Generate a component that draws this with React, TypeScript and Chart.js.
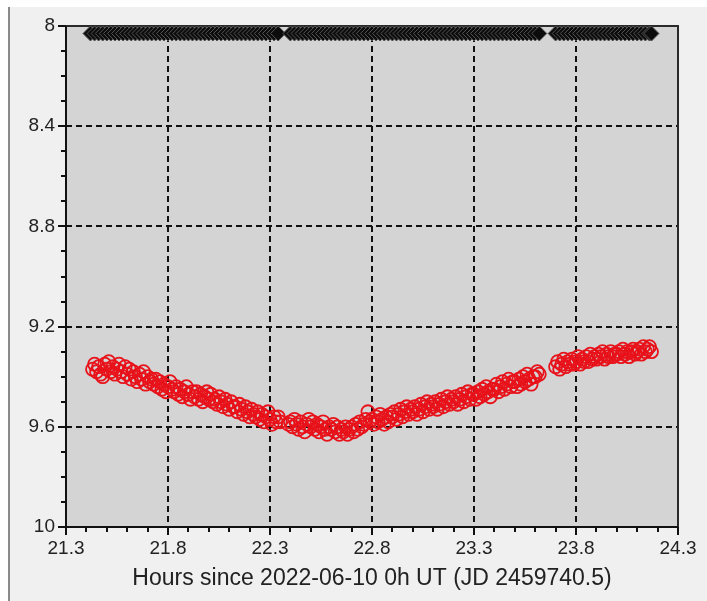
import React, { useEffect, useRef } from 'react';
import { Chart, registerables } from 'chart.js';

Chart.register(...registerables);

// Variable star: observation times (hours since 2022-06-10 0h UT)
const varTimes: number[] = [
  21.43, 21.44, 21.45, 21.46, 21.47, 21.48, 21.49, 21.50, 21.51, 21.52,
  21.53, 21.54, 21.55, 21.56, 21.57, 21.58, 21.59, 21.60, 21.61, 21.62,
  21.63, 21.64, 21.65, 21.66, 21.67, 21.68, 21.69, 21.70, 21.71, 21.72,
  21.73, 21.74, 21.75, 21.76, 21.77, 21.78, 21.79, 21.80, 21.81, 21.82,
  21.83, 21.84, 21.85, 21.86, 21.87, 21.88, 21.89, 21.90, 21.91, 21.92,
  21.93, 21.94, 21.95, 21.96, 21.97, 21.98, 21.99, 22.00, 22.01, 22.02,
  22.03, 22.04, 22.05, 22.06, 22.07, 22.08, 22.09, 22.10, 22.11, 22.12,
  22.13, 22.14, 22.15, 22.16, 22.17, 22.18, 22.19, 22.20, 22.21, 22.22,
  22.23, 22.24, 22.25, 22.26, 22.27, 22.28, 22.29, 22.30, 22.31, 22.32,
  22.33, 22.34, 22.35,
  22.39, 22.40, 22.41, 22.42, 22.43, 22.44, 22.45, 22.46, 22.47, 22.48, 22.49,
  22.50, 22.51, 22.52, 22.53, 22.54, 22.55, 22.56, 22.57, 22.58, 22.59,
  22.60, 22.61, 22.62, 22.63, 22.64, 22.65, 22.66, 22.67, 22.68, 22.69,
  22.70, 22.71, 22.72, 22.73, 22.74, 22.75, 22.76, 22.77, 22.78, 22.79,
  22.80, 22.81, 22.82, 22.83, 22.84, 22.85, 22.86, 22.87, 22.88, 22.89,
  22.90, 22.91, 22.92, 22.93, 22.94, 22.95, 22.96, 22.97, 22.98, 22.99,
  23.00, 23.01, 23.02, 23.03, 23.04, 23.05, 23.06, 23.07, 23.08, 23.09,
  23.10, 23.11, 23.12, 23.13, 23.14, 23.15, 23.16, 23.17, 23.18, 23.19,
  23.20, 23.21, 23.22, 23.23, 23.24, 23.25, 23.26, 23.27, 23.28, 23.29,
  23.30, 23.31, 23.32, 23.33, 23.34, 23.35, 23.36, 23.37, 23.38, 23.39,
  23.40, 23.41, 23.42, 23.43, 23.44, 23.45, 23.46, 23.47, 23.48, 23.49,
  23.50, 23.51, 23.52, 23.53, 23.54, 23.55, 23.56, 23.57, 23.58, 23.59,
  23.60, 23.61, 23.62,
  23.70, 23.71, 23.72, 23.73, 23.74, 23.75, 23.76, 23.77, 23.78, 23.79,
  23.80, 23.81, 23.82, 23.83, 23.84, 23.85, 23.86, 23.87, 23.88, 23.89,
  23.90, 23.91, 23.92, 23.93, 23.94, 23.95, 23.96, 23.97, 23.98, 23.99,
  24.00, 24.01, 24.02, 24.03, 24.04, 24.05, 24.06, 24.07, 24.08, 24.09,
  24.10, 24.11, 24.12, 24.13, 24.14, 24.15, 24.16, 24.17,
];

// Variable star magnitudes (red open circles)
const varMags: number[] = [
  9.37, 9.35, 9.38, 9.36, 9.39, 9.40, 9.35, 9.37, 9.34, 9.38,
  9.36, 9.39, 9.37, 9.35, 9.38, 9.40, 9.36, 9.39, 9.37, 9.41,
  9.38, 9.40, 9.42, 9.39, 9.41, 9.38, 9.43, 9.40, 9.42, 9.41,
  9.43, 9.41, 9.44, 9.42, 9.45, 9.43, 9.46, 9.44, 9.42, 9.45,
  9.46, 9.44, 9.47, 9.45, 9.48, 9.46, 9.44, 9.47, 9.49, 9.46,
  9.48, 9.46, 9.49, 9.47, 9.50, 9.48, 9.46, 9.49, 9.47, 9.50,
  9.49, 9.51, 9.48, 9.50, 9.52, 9.49, 9.51, 9.53, 9.50, 9.52,
  9.52, 9.54, 9.51, 9.53, 9.55, 9.52, 9.54, 9.56, 9.53, 9.55,
  9.56, 9.54, 9.57, 9.55, 9.58, 9.56, 9.54, 9.57, 9.59, 9.56,
  9.58, 9.56, 9.58,
  9.59, 9.58, 9.60, 9.57, 9.59, 9.61, 9.58, 9.60, 9.62, 9.59, 9.57,
  9.60, 9.58, 9.61, 9.59, 9.62, 9.60, 9.58, 9.61, 9.63, 9.60,
  9.61, 9.59, 9.62, 9.60, 9.63, 9.61, 9.62, 9.60, 9.63, 9.61,
  9.60, 9.62, 9.59, 9.61, 9.58, 9.60, 9.59, 9.57, 9.54, 9.58,
  9.57, 9.59, 9.56, 9.58, 9.55, 9.57, 9.59, 9.56, 9.58, 9.55,
  9.56, 9.54, 9.57, 9.55, 9.53, 9.56, 9.54, 9.52, 9.55, 9.53,
  9.54, 9.52, 9.55, 9.53, 9.51, 9.54, 9.52, 9.50, 9.53, 9.51,
  9.52, 9.50, 9.53, 9.51, 9.49, 9.52, 9.50, 9.48, 9.51, 9.49,
  9.50, 9.48, 9.51, 9.49, 9.47, 9.50, 9.48, 9.46, 9.49, 9.47,
  9.47, 9.49, 9.46, 9.48, 9.45, 9.47, 9.44, 9.46, 9.48, 9.45,
  9.45, 9.43, 9.46, 9.44, 9.42, 9.45, 9.43, 9.41, 9.44, 9.42,
  9.42, 9.44, 9.41, 9.43, 9.40, 9.42, 9.39, 9.41, 9.43, 9.40,
  9.40, 9.38, 9.39,
  9.36, 9.34, 9.37, 9.35, 9.33, 9.36, 9.34, 9.35, 9.33, 9.35,
  9.34, 9.32, 9.35, 9.33, 9.34, 9.32, 9.34, 9.31, 9.33, 9.32,
  9.33, 9.31, 9.32, 9.30, 9.33, 9.31, 9.32, 9.30, 9.32, 9.31,
  9.31, 9.30, 9.32, 9.29, 9.31, 9.30, 9.32, 9.30, 9.29, 9.31,
  9.30, 9.29, 9.31, 9.28, 9.30, 9.29, 9.28, 9.30,
];

// Comparison star: times and magnitudes (black filled diamonds)
const compTimes: number[] = [
  21.42, 21.44, 21.46, 21.48, 21.50, 21.52, 21.54, 21.56, 21.58, 21.60,
  21.62, 21.64, 21.66, 21.68, 21.70, 21.72, 21.74, 21.76, 21.78, 21.80,
  21.82, 21.84, 21.86, 21.88, 21.90, 21.92, 21.94, 21.96, 21.98, 22.00,
  22.02, 22.04, 22.06, 22.08, 22.10, 22.12, 22.14, 22.16, 22.18, 22.20,
  22.22, 22.24, 22.26, 22.28, 22.30, 22.32, 22.34, 22.40, 22.42, 22.44,
  22.46, 22.48, 22.50, 22.52, 22.54, 22.56, 22.58, 22.60, 22.62, 22.64,
  22.66, 22.68, 22.70, 22.72, 22.74, 22.76, 22.78, 22.80, 22.82, 22.84,
  22.86, 22.88, 22.90, 22.92, 22.94, 22.96, 22.98, 23.00, 23.02, 23.04,
  23.06, 23.08, 23.10, 23.12, 23.14, 23.16, 23.18, 23.20, 23.22, 23.24,
  23.26, 23.28, 23.30, 23.32, 23.34, 23.36, 23.38, 23.40, 23.42, 23.44,
  23.46, 23.48, 23.50, 23.52, 23.54, 23.56, 23.58, 23.60, 23.62, 23.70,
  23.72, 23.74, 23.76, 23.78, 23.80, 23.82, 23.84, 23.86, 23.88, 23.90,
  23.92, 23.94, 23.96, 23.98, 24.00, 24.02, 24.04, 24.06, 24.08, 24.10,
  24.12, 24.14, 24.16, 24.17,
];
const compMags: number[] = [
  8.03, 8.03, 8.03, 8.03, 8.03, 8.03, 8.03, 8.03, 8.03, 8.03,
  8.03, 8.03, 8.03, 8.03, 8.03, 8.03, 8.03, 8.03, 8.03, 8.03,
  8.03, 8.03, 8.03, 8.03, 8.03, 8.03, 8.03, 8.03, 8.03, 8.03,
  8.03, 8.03, 8.03, 8.03, 8.03, 8.03, 8.03, 8.03, 8.03, 8.03,
  8.03, 8.03, 8.03, 8.03, 8.03, 8.03, 8.03, 8.03, 8.03, 8.03,
  8.03, 8.03, 8.03, 8.03, 8.03, 8.03, 8.03, 8.03, 8.03, 8.03,
  8.03, 8.03, 8.03, 8.03, 8.03, 8.03, 8.03, 8.03, 8.03, 8.03,
  8.03, 8.03, 8.03, 8.03, 8.03, 8.03, 8.03, 8.03, 8.03, 8.03,
  8.03, 8.03, 8.03, 8.03, 8.03, 8.03, 8.03, 8.03, 8.03, 8.03,
  8.03, 8.03, 8.03, 8.03, 8.03, 8.03, 8.03, 8.03, 8.03, 8.03,
  8.03, 8.03, 8.03, 8.03, 8.03, 8.03, 8.03, 8.03, 8.03, 8.03,
  8.03, 8.03, 8.03, 8.03, 8.03, 8.03, 8.03, 8.03, 8.03, 8.03,
  8.03, 8.03, 8.03, 8.03, 8.03, 8.03, 8.03, 8.03, 8.03, 8.03,
  8.03, 8.03, 8.03, 8.03,
];

const xTickLabels: number[] = [21.3, 21.8, 22.3, 22.8, 23.3, 23.8, 24.3];
const yTickLabels: number[] = [8, 8.4, 8.8, 9.2, 9.6, 10];
const xTitle = 'Hours since 2022-06-10 0h UT (JD 2459740.5)';

const X_MIN = 21.3, X_MAX = 24.3, X_MINOR = 0.1;
const Y_MIN = 8, Y_MAX = 10, Y_MINOR = 0.1;

const isMajor = (v: number, arr: number[]) => arr.some((a) => Math.abs(a - v) < 1e-6);

export default function App() {
  const ref = useRef<HTMLCanvasElement>(null);

  useEffect(() => {
    document.body.style.margin = '0';
    const canvas = ref.current;
    if (!canvas) return;

    const framePlugin = {
      id: 'framePlugin',
      beforeDraw(chart: any) {
        const { ctx, chartArea: a } = chart;
        ctx.save();
        ctx.fillStyle = '#d4d4d4';
        ctx.fillRect(a.left, a.top, a.right - a.left, a.bottom - a.top);
        ctx.restore();
      },
      beforeDatasetsDraw(chart: any) {
        const { ctx, chartArea: a, scales } = chart;
        ctx.save();
        ctx.strokeStyle = '#111';
        ctx.lineWidth = 2;
        ctx.setLineDash([6, 4]);
        xTickLabels.forEach((v) => {
          if (v === X_MIN || v === X_MAX) return;
          const x = Math.round(scales.x.getPixelForValue(v));
          ctx.beginPath();
          ctx.moveTo(x, a.top);
          ctx.lineTo(x, a.bottom);
          ctx.stroke();
        });
        yTickLabels.forEach((v) => {
          if (v === Y_MIN || v === Y_MAX) return;
          const y = Math.round(scales.y.getPixelForValue(v));
          ctx.beginPath();
          ctx.moveTo(a.left, y);
          ctx.lineTo(a.right, y);
          ctx.stroke();
        });
        ctx.setLineDash([]);
        ctx.strokeStyle = '#2a2a2a';
        ctx.strokeRect(a.left, a.top, a.right - a.left, a.bottom - a.top);
        ctx.restore();
      },
      afterDraw(chart: any) {
        const { ctx, chartArea: a, scales } = chart;
        ctx.save();
        ctx.strokeStyle = '#111';
        ctx.lineWidth = 2;
        scales.x.ticks.forEach((t: any) => {
          const x = Math.round(scales.x.getPixelForValue(t.value));
          const len = isMajor(t.value, xTickLabels) ? 8 : 5;
          ctx.beginPath();
          ctx.moveTo(x, a.bottom);
          ctx.lineTo(x, a.bottom + len);
          ctx.stroke();
        });
        scales.y.ticks.forEach((t: any) => {
          const y = Math.round(scales.y.getPixelForValue(t.value));
          const len = isMajor(t.value, yTickLabels) ? 8 : 5;
          ctx.beginPath();
          ctx.moveTo(a.left, y);
          ctx.lineTo(a.left - len, y);
          ctx.stroke();
        });
        ctx.beginPath();
        ctx.moveTo(a.left, a.top);
        ctx.lineTo(a.left, a.bottom);
        ctx.lineTo(a.right, a.bottom);
        ctx.stroke();
        ctx.restore();
      },
    };

    const tickFont = { family: "'Liberation Sans', Arial, sans-serif", size: 19 };

    const chart = new Chart(canvas, {
      type: 'scatter',
      data: {
        datasets: [
          {
            label: 'Variable',
            data: varTimes.map((t, i) => ({ x: t, y: varMags[i] })),
            pointStyle: 'circle',
            pointRadius: 6.5,
            borderColor: '#e8121a',
            backgroundColor: 'rgba(0,0,0,0)',
            borderWidth: 1.8,
          },
          {
            label: 'Comparison',
            data: compTimes.map((t, i) => ({ x: t, y: compMags[i] })),
            pointStyle: 'rectRot',
            pointRadius: 7.5,
            borderColor: '#555',
            backgroundColor: '#0c0c0c',
            borderWidth: 1,
          },
        ],
      },
      options: {
        animation: false,
        responsive: false,
        layout: { padding: { left: 0, top: 26, right: 29, bottom: 0 } },
        plugins: { legend: { display: false }, tooltip: { enabled: false } },
        scales: {
          x: {
            type: 'linear',
            min: X_MIN,
            max: X_MAX,
            grid: { display: false, drawTicks: false },
            border: { display: false },
            afterBuildTicks: (s: any) => {
              const n = Math.round((X_MAX - X_MIN) / X_MINOR);
              const arr = [];
              for (let k = 0; k <= n; k++) arr.push({ value: +(X_MIN + k * X_MINOR).toFixed(2) });
              s.ticks = arr;
            },
            afterFit: (s: any) => {
              s.height = 74;
            },
            ticks: {
              autoSkip: false,
              maxRotation: 0,
              minRotation: 0,
              padding: 10,
              color: '#222',
              font: tickFont,
              callback: (v: any) => (isMajor(Number(v), xTickLabels) ? Number(v).toFixed(1) : ''),
            },
            title: {
              display: true,
              text: xTitle,
              color: '#222',
              font: { family: "'Liberation Sans', Arial, sans-serif", size: 23 },
              padding: { top: 0, bottom: 9 },
            },
          },
          y: {
            type: 'linear',
            reverse: true,
            min: Y_MIN,
            max: Y_MAX,
            grid: { display: false, drawTicks: false },
            border: { display: false },
            afterBuildTicks: (s: any) => {
              const n = Math.round((Y_MAX - Y_MIN) / Y_MINOR);
              const arr = [];
              for (let k = 0; k <= n; k++) arr.push({ value: +(Y_MIN + k * Y_MINOR).toFixed(2) });
              s.ticks = arr;
            },
            afterFit: (s: any) => {
              s.width = 66;
            },
            ticks: {
              autoSkip: false,
              padding: 11,
              color: '#222',
              font: tickFont,
              callback: (v: any) =>
                isMajor(Number(v), yTickLabels) ? String(Number(Number(v).toFixed(1))) : '',
            },
          },
        },
      },
      plugins: [framePlugin],
    } as any);

    return () => chart.destroy();
  }, []);

  return (
    <div style={{ position: 'relative', width: 707, height: 601, background: '#ffffff', overflow: 'hidden' }}>
      <div
        style={{
          position: 'absolute',
          left: 8,
          top: 7,
          right: 0,
          bottom: 0,
          background: '#f0f0f0',
          borderLeft: '2px solid #8a8a8a',
        }}
      />
      <canvas ref={ref} width={707} height={601} style={{ position: 'absolute', left: 0, top: 0 }} />
    </div>
  );
}
